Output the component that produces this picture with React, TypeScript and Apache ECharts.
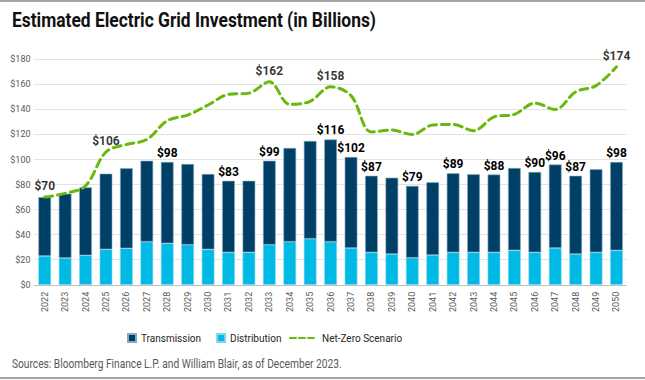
import React, { useEffect, useRef } from "react";
import * as echarts from "echarts";

const years = [
  "2022", "2023", "2024", "2025", "2026", "2027", "2028", "2029", "2030", "2031",
  "2032", "2033", "2034", "2035", "2036", "2037", "2038", "2039", "2040", "2041",
  "2042", "2043", "2044", "2045", "2046", "2047", "2048", "2049", "2050",
];
const transmission = [
  47, 51.3, 54.3, 60.4, 63.9, 64.6, 64.9, 64.4, 60.1, 57.1,
  57.1, 67, 74.8, 78, 81.6, 72.6, 61.1, 60.9, 57.4, 58,
  63.1, 62.3, 62.1, 65.7, 64.1, 66.6, 62.4, 66.3, 70.5,
];
const distribution = [
  23, 21.4, 23.5, 28.3, 29.1, 34.4, 33.1, 32, 28.3, 25.9,
  25.9, 32, 34.4, 36.8, 34.4, 29.4, 25.9, 24.6, 21.6, 23.8,
  25.9, 25.9, 25.9, 27.5, 25.9, 29.4, 24.6, 25.9, 27.5,
];
const netZero = [
  70, 73, 79, 106, 112, 116, 131, 135.5, 143.5, 152,
  153, 162, 144, 146.5, 158, 151, 122, 123.5, 120, 127.5,
  128, 123, 134, 136, 145, 140, 154, 159, 174,
];
const barLabelIdx = [6, 9, 11, 14, 15, 16, 18, 20, 22, 24, 25, 26, 28];
const lineLabelIdx = [0, 3, 11, 14, 28];
const yTicks = [0, 20, 40, 60, 80, 100, 120, 140, 160, 180];

const FONT = 'Roboto, "Liberation Sans", sans-serif';

export default function App() {
  const ref = useRef<HTMLDivElement>(null);
  useEffect(() => {
    if (!ref.current) return;
    const chart = echarts.init(ref.current, null, { renderer: "svg" });
    const labelStyle = {
      fontSize: 12,
      fontWeight: "bold" as const,
      color: "#000000",
      fontFamily: FONT,
    };
    chart.setOption({
      animation: false,
      backgroundColor: "#ffffff",
      textStyle: { fontFamily: FONT },
      graphic: [
        { type: "rect", shape: { x: 0, y: 0, width: 645, height: 2 }, style: { fill: "#a6a6a6" } },
        { type: "rect", shape: { x: 0, y: 377, width: 645, height: 2 }, style: { fill: "#a6a6a6" } },
        {
          type: "text",
          x: 12,
          y: 11,
          scaleX: 0.87,
          style: {
            text: "Estimated Electric Grid Investment (in Billions)",
            font: `bold 20px ${FONT}`,
            fill: "#111111",
            verticalAlign: "top",
          },
        },
        {
          type: "text",
          x: 12,
          y: 358,
          scaleX: 0.85,
          style: {
            text: "Sources: Bloomberg Finance L.P. and William Blair, as of December 2023.",
            font: `12px ${FONT}`,
            fill: "#595959",
            verticalAlign: "top",
          },
        },
      ],
      legend: [
        {
          data: ["Transmission", "Distribution"],
          left: 122,
          top: 328,
          icon: "rect",
          itemWidth: 8,
          itemHeight: 8,
          itemGap: 15,
          textStyle: { fontSize: 10, color: "#262626", fontFamily: FONT },
        },
        {
          data: [
            {
              name: "Net-Zero Scenario",
              itemStyle: { opacity: 0 },
              lineStyle: { width: 2, type: [6, 3] },
            },
          ],
          left: 284,
          top: 328,
          itemWidth: 27,
          itemHeight: 8,
          textStyle: { fontSize: 10, color: "#262626", fontFamily: FONT },
        },
      ],
      grid: { left: 34.5, right: 18.3, top: 59.3, bottom: 95.2, containLabel: false },
      xAxis: {
        type: "category",
        data: years,
        axisLine: { lineStyle: { color: "#bfbfbf" } },
        axisTick: { show: false },
        axisLabel: {
          rotate: 90,
          interval: 0,
          fontSize: 9,
          color: "#595959",
          margin: 7,
          fontFamily: FONT,
        },
      },
      yAxis: {
        type: "value",
        min: yTicks[0],
        max: yTicks[yTicks.length - 1],
        interval: 20,
        axisLine: { show: false },
        axisTick: { show: false },
        splitLine: { lineStyle: { color: "#e3e3e3", width: 1 } },
        axisLabel: {
          fontSize: 9,
          color: "#595959",
          margin: 4,
          fontFamily: FONT,
          formatter: (v: number) => "$" + v,
        },
      },
      series: [
        {
          name: "Distribution",
          type: "bar",
          stack: "grid",
          barWidth: "62%",
          data: distribution,
          itemStyle: { color: "#00b9e4", borderColor: "#7fd6ef", borderWidth: 0.6 },
        },
        {
          name: "Transmission",
          type: "bar",
          stack: "grid",
          barWidth: "62%",
          data: transmission,
          itemStyle: { color: "#003f66", borderColor: "#87a9c2", borderWidth: 0.6 },
          label: {
            show: true,
            position: "top",
            distance: 3,
            ...labelStyle,
            formatter: (p: any) =>
              barLabelIdx.includes(p.dataIndex)
                ? "$" + Math.round(transmission[p.dataIndex] + distribution[p.dataIndex])
                : "",
          },
        },
        {
          name: "Net-Zero Scenario",
          type: "line",
          data: netZero,
          smooth: 0.35,
          symbol: "none",
          lineStyle: { color: "#69b80e", width: 3, type: [8, 5], cap: "round" },
          itemStyle: { color: "#69b80e" },
          z: 5,
        },
        {
          name: "Net-Zero labels",
          type: "scatter",
          data: netZero.map((v, i) => (lineLabelIdx.includes(i) ? v : "-")),
          symbolSize: 0,
          silent: true,
          z: 6,
          label: {
            show: true,
            position: "top",
            distance: 5,
            ...labelStyle,
            formatter: (p: any) => "$" + Math.round(netZero[p.dataIndex]),
          },
        },
      ],
    });
    return () => chart.dispose();
  }, []);
  return (
    <div
      ref={ref}
      style={{ position: "fixed", left: 0, top: 0, width: 645, height: 380 }}
    />
  );
}
